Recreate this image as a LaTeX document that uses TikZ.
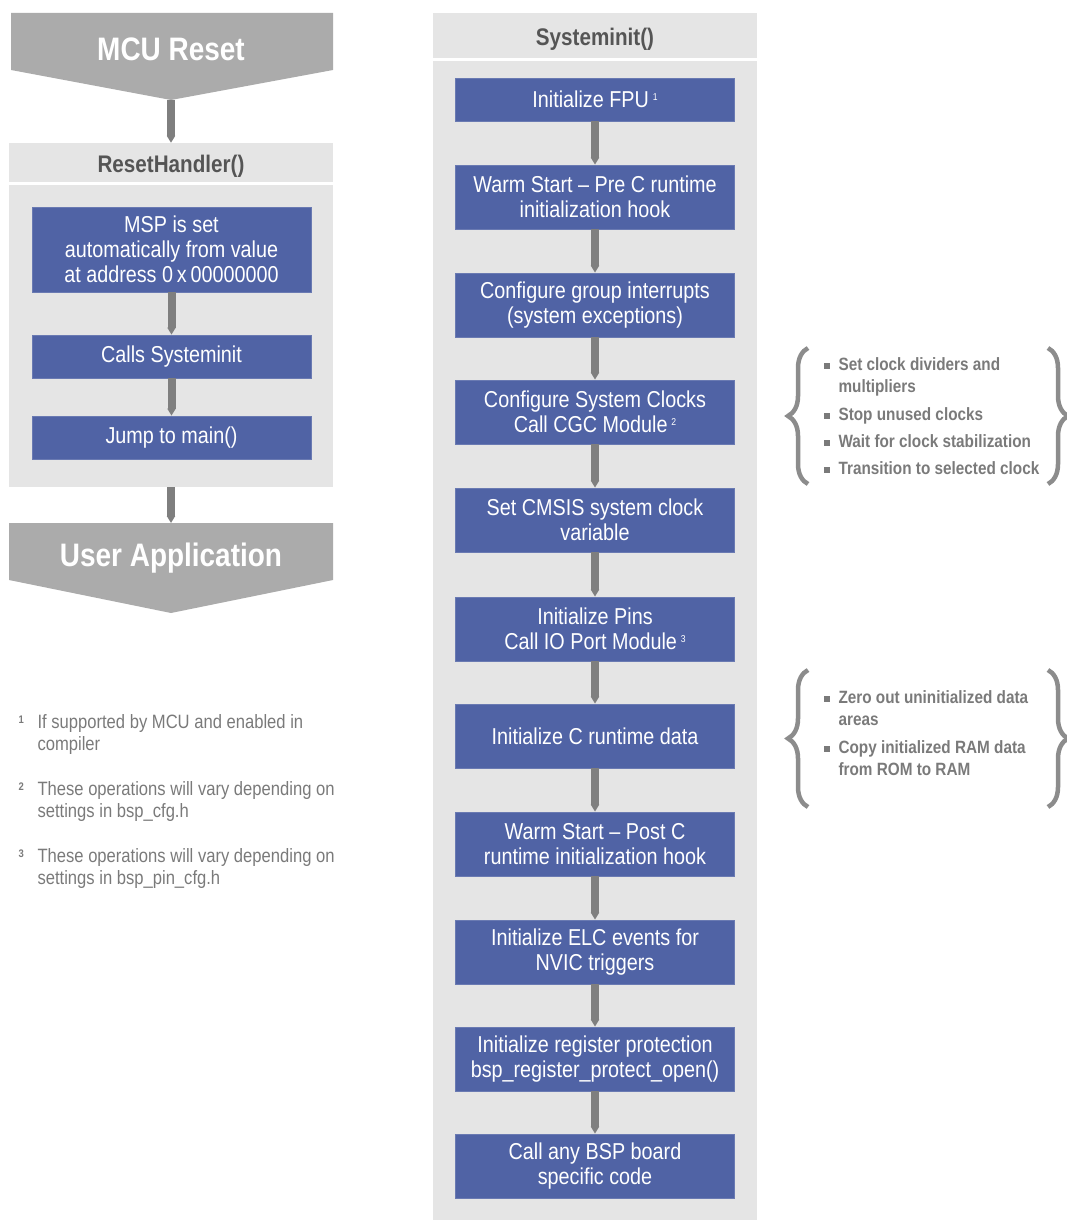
\documentclass[tikz,border=0pt]{standalone}
\usepackage{fontspec}
\setmainfont{Liberation Sans}[FakeStretch=0.86]
\usetikzlibrary{arrows.meta,decorations.pathreplacing}
\definecolor{boxblue}{HTML}{5063A5}
\definecolor{panel}{HTML}{E5E5E5}
\definecolor{bigarrow}{HTML}{ABABAB}
\definecolor{conn}{HTML}{7F7F7F}
\definecolor{hdrtext}{HTML}{555555}
\definecolor{notetext}{HTML}{7A7A7A}
\definecolor{bracecol}{HTML}{8C8C8C}
\begin{document}
\begin{tikzpicture}[x=1pt,y=-1pt,
  stepbox/.style={fill=boxblue, draw=boxblue!85!white, line width=0.8pt, text=white,
    minimum width=279pt, align=center, inner sep=0pt, font=\fontsize{23}{25}\selectfont},
  hdr/.style={fill=panel, text=hdrtext, minimum width=324pt, inner sep=0pt,
    text height=20pt, text depth=0pt, font=\bfseries\fontsize{24}{28}\selectfont},
  panelbox/.style={fill=panel, minimum width=324pt, inner sep=0pt},
  flow/.style={draw=conn, line width=8pt, -{Triangle[width=8pt,length=7pt]}},
  bigtxt/.style={text=white, font=\bfseries\fontsize{32.5}{36}\selectfont},
  note/.style={text=notetext, anchor=base west, align=left, font=\fontsize{19.3}{22}\selectfont},
  notenum/.style={text=notetext, anchor=base west, font=\bfseries\fontsize{11}{13}\selectfont},
  bul/.style={text=notetext, anchor=base west, align=left, font=\bfseries\fontsize{17.8}{22}\selectfont},
  brc/.style={draw=bracecol, line width=4.5pt, decorate, decoration={brace, amplitude=20pt}}
]
\useasboundingbox (0,0) rectangle (1066,1220);

% ---------- left column ----------
\fill[bigarrow] (11,13) -- (333,13) -- (333,70) -- (171,100) -- (11,70) -- cycle;
\node[bigtxt] (mcu) at (171,49) {MCU Reset};
\coordinate (mcutip) at (171,100);

\node[hdr, minimum height=39pt] (rh) at (171,162.5) {ResetHandler()};
\node[panelbox, minimum height=302pt] (lbody) at (171,336) {};

\node[stepbox, minimum height=85pt] (msp) at (171.5,249.5)
  {MSP is set\\automatically from value\\at address 0\,x\,00000000};
\node[stepbox, minimum height=43pt] (calls) at (171.5,356.5) {Calls Systeminit};
\node[stepbox, minimum height=43pt] (jump) at (171.5,437.5) {Jump to main()};

\fill[bigarrow] (9,523) -- (333,523) -- (333,580) -- (171,613) -- (9,580) -- cycle;
\node[bigtxt] (ua) at (171,558) {User Application};
\coordinate (uatop) at (171,523);

\draw[flow] (mcutip) -- (rh.north);
\draw[flow] (msp.south) -- (calls.north);
\draw[flow] (calls.south) -- (jump.north);
\draw[flow] (lbody.south) -- (uatop);

% footnotes
\node[notenum] (n1) at (15,723) {1};
\node[note] (f1) at (34,750) {If supported by MCU and enabled in\\compiler};
\node[notenum] (n2) at (15,790) {2};
\node[note] (f2) at (34,817) {These operations will vary depending on\\settings in bsp\_cfg.h};
\node[notenum] (n3) at (15,857) {3};
\node[note] (f3) at (34,884) {These operations will vary depending on\\settings in bsp\_pin\_cfg.h};

% ---------- right column ----------
\node[hdr, minimum height=45pt] (sih) at (595,35.5) {Systeminit()};
\node[panelbox, minimum height=1159pt] (rbody) at (595,640.5) {};

\node[stepbox, minimum height=43pt] (s1) at (595,99.5) {Initialize FPU\,\raisebox{0.6ex}{\fontsize{10}{12}\selectfont 1}};
\node[stepbox, minimum height=64pt] (s2) at (595,197) {Warm Start -- Pre C runtime\\initialization hook};
\node[stepbox, minimum height=64pt] (s3) at (595,305) {Configure group interrupts\\(system exceptions)};
\node[stepbox, minimum height=64pt] (s4) at (595,412) {Configure System Clocks\\Call CGC Module\,\raisebox{0.6ex}{\fontsize{10}{12}\selectfont 2}};
\node[stepbox, minimum height=64pt] (s5) at (595,520) {Set CMSIS system clock\\variable};
\node[stepbox, minimum height=64pt] (s6) at (595,629) {Initialize Pins\\Call IO Port Module\,\raisebox{0.6ex}{\fontsize{10}{12}\selectfont 3}};
\node[stepbox, minimum height=64pt] (s7) at (595,736) {Initialize C runtime data};
\node[stepbox, minimum height=64pt] (s8) at (595,844) {Warm Start -- Post C\\runtime initialization hook};
\node[stepbox, minimum height=64pt] (s9) at (595,952) {Initialize ELC events for\\NVIC triggers};
\node[stepbox, minimum height=64pt] (s10) at (595,1059) {Initialize register protection\\bsp\_register\_protect\_open()};
\node[stepbox, minimum height=64pt] (s11) at (595,1166) {Call any BSP board\\specific code};

\foreach \a/\b in {s1/s2,s2/s3,s3/s4,s4/s5,s5/s6,s6/s7,s7/s8,s8/s9,s9/s10,s10/s11}
  \draw[flow] (\a.south) -- (\b.north);

% ---------- side notes ----------
\newcommand{\bulsq}{\textcolor{notetext}{\rule[1pt]{6pt}{6pt}}\hspace{9pt}}
\draw[brc] (808,484) -- (808,348);
\draw[brc] (1048,348) -- (1048,484);
\node[bul] (b1) at (820,392) {\bulsq Set clock dividers and\\\hspace{15pt}multipliers};
\node[bul] (b2) at (820,420) {\bulsq Stop unused clocks};
\node[bul] (b3) at (820,447) {\bulsq Wait for clock stabilization};
\node[bul] (b4) at (820,474) {\bulsq Transition to selected clock};

\draw[brc] (808,807) -- (808,670);
\draw[brc] (1048,670) -- (1048,807);
\node[bul] (b5) at (820,725) {\bulsq Zero out uninitialized data\\\hspace{15pt}areas};
\node[bul] (b6) at (820,775) {\bulsq Copy initialized RAM data\\\hspace{15pt}from ROM to RAM};
\end{tikzpicture}
\end{document}
